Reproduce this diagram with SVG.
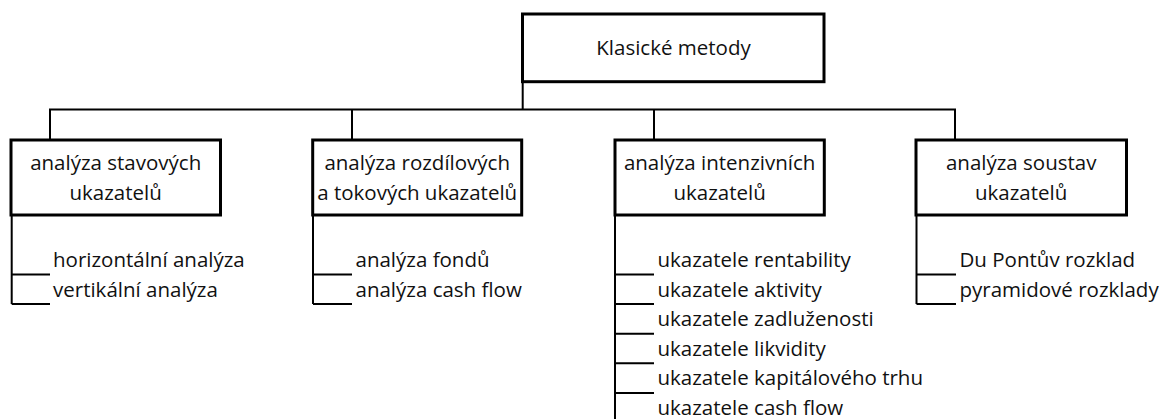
<svg xmlns="http://www.w3.org/2000/svg" width="1160" height="419" viewBox="0 0 1160 419">
<style>
.box{fill:#fff;stroke:#000;stroke-width:3}
.ln{fill:none;stroke:#000;stroke-width:2}
text{font-family:"Open Sans","Liberation Sans",sans-serif;font-size:20.5px;fill:#111}
.c{text-anchor:middle}
</style>
<rect width="1160" height="419" fill="#fff"/>
<g id="connectors">
<path class="ln" d="M522.7 82V109.5M49 109.5H956M50 109.5V140M352 109.5V140M654 109.5V140M955 109.5V140"/>
<path class="ln" d="M11.7 215V304.1M11.7 274.5H50M11.7 304.1H50"/>
<path class="ln" d="M313 215V304.1M313 274.5H352M313 304.1H352"/>
<path class="ln" d="M615 215V419M615 274.5H654M615 304.1H654M615 333.7H654M615 363.3H654M615 392.9H654"/>
<path class="ln" d="M916.5 215V304.1M916.5 274.5H956M916.5 304.1H956"/>
</g>
<g id="root">
<rect class="box" x="522.5" y="14" width="301.5" height="67.7"/>
<text class="c" x="673.5" y="55">Klasické metody</text>
</g>
<g id="n1">
<rect class="box" x="11" y="140" width="209.5" height="75"/>
<text class="c" x="115.7" y="170">analýza stavových</text>
<text class="c" x="115.7" y="200">ukazatelů</text>
</g>
<g id="n2">
<rect class="box" x="312.7" y="140" width="209" height="75"/>
<text class="c" x="417.2" y="170">analýza rozdílových</text>
<text class="c" x="417.2" y="200">a tokových ukazatelů</text>
</g>
<g id="n3">
<rect class="box" x="615" y="140" width="209.3" height="75"/>
<text class="c" x="719.6" y="170">analýza intenzivních</text>
<text class="c" x="719.6" y="200">ukazatelů</text>
</g>
<g id="n4">
<rect class="box" x="916" y="140" width="210.5" height="75"/>
<text class="c" x="1021.2" y="170">analýza soustav</text>
<text class="c" x="1021.2" y="200">ukazatelů</text>
</g>
<g id="items1">
<text x="53" y="267">horizontální analýza</text>
<text x="53" y="296.6">vertikální analýza</text>
</g>
<g id="items2">
<text x="355.5" y="267">analýza fondů</text>
<text x="355.5" y="296.6">analýza cash flow</text>
</g>
<g id="items3">
<text x="657.5" y="267">ukazatele rentability</text>
<text x="657.5" y="296.6">ukazatele aktivity</text>
<text x="657.5" y="326.2">ukazatele zadluženosti</text>
<text x="657.5" y="355.8">ukazatele likvidity</text>
<text x="657.5" y="385.4">ukazatele kapitálového trhu</text>
<text x="657.5" y="415">ukazatele cash flow</text>
</g>
<g id="items4">
<text x="959.5" y="267">Du Pontův rozklad</text>
<text x="959.5" y="296.6">pyramidové rozklady</text>
</g>
</svg>
